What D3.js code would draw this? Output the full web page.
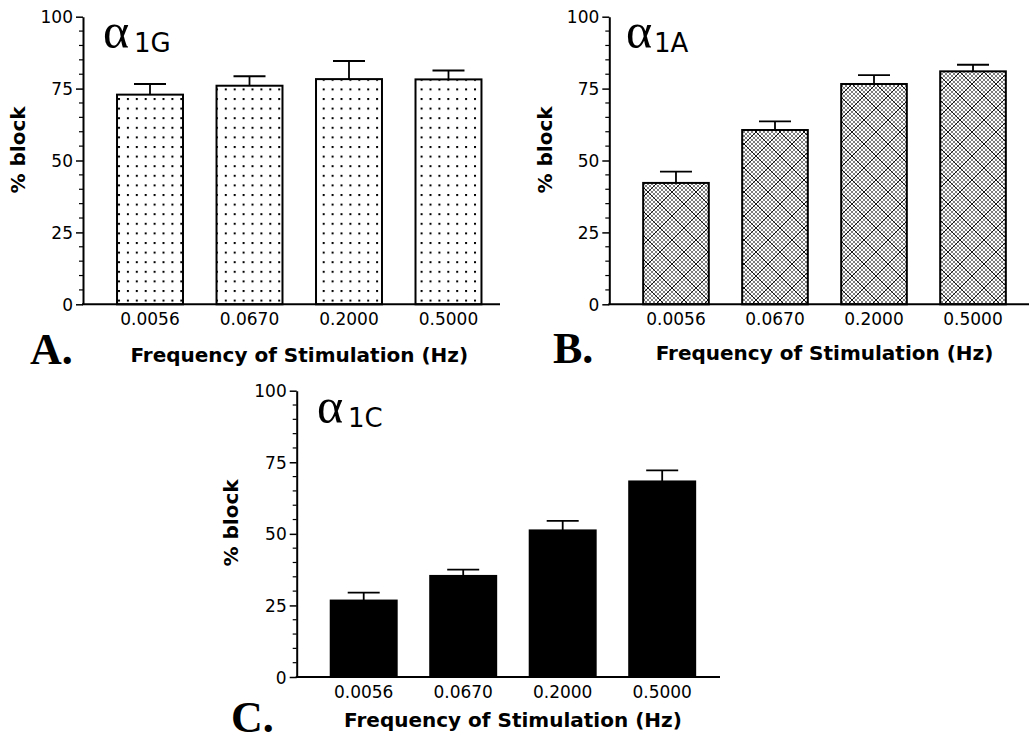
<!DOCTYPE html>
<html>
<head>
<meta charset="utf-8">
<script src="https://cdn.jsdelivr.net/npm/d3@7"></script>
<style>
  html, body { margin: 0; padding: 0; background: #fff; }
  svg { display: block; }
</style>
</head>
<body>
<svg id="chart" width="1029" height="742"></svg>
<script>
// ---- data ----
const categories = ["0.0056", "0.0670", "0.2000", "0.5000"];
const meanA = [72.9, 76.0, 78.3, 78.2];
const semA  = [3.7, 3.3, 6.3, 3.1];
const meanB = [42.2, 60.6, 76.6, 81.0];
const semB  = [3.9, 3.0, 3.1, 2.3];
const meanC = [26.7, 35.3, 51.2, 68.3];
const semC  = [2.8, 2.2, 3.3, 3.9];
const yTicks = [0, 25, 50, 75, 100];
const yMinorStep = 5;
const panelLetters = ["A.", "B.", "C."];
const subtypes = ["1G", "1A", "1C"];
const xTitle = "Frequency of Stimulation (Hz)";
const yTitle = "% block";

// ---- layout ----
const svg = d3.select("#chart");
const defs = svg.append("defs");

// dotted pattern
const dots = defs.append("pattern").attr("id", "dots")
  .attr("patternUnits", "userSpaceOnUse").attr("width", 8.9).attr("height", 9.6)
  .attr("x", 118).attr("y", 2);
dots.append("rect").attr("width", 8.9).attr("height", 9.6).attr("fill", "#fff");
dots.append("rect").attr("x", 0).attr("y", 0).attr("width", 2).attr("height", 2).attr("fill", "#000");

// cross-hatch pattern
const T = 24, p = 4;
const hatch = defs.append("pattern").attr("id", "hatch")
  .attr("patternUnits", "userSpaceOnUse").attr("width", T).attr("height", T);
hatch.append("rect").attr("width", T).attr("height", T).attr("fill", "#fff");
for (let c = -T; c <= T; c += p) {
  const dark = (c === 0);
  hatch.append("line").attr("x1", 0).attr("y1", c).attr("x2", T).attr("y2", T + c)
    .attr("stroke", dark ? "#111" : "#666").attr("stroke-width", dark ? 1 : 0.85);
}
for (let c = 0; c <= 2 * T; c += p) {
  const dark = (c === T);
  hatch.append("line").attr("x1", 0).attr("y1", c).attr("x2", T).attr("y2", c - T)
    .attr("stroke", dark ? "#111" : "#666").attr("stroke-width", dark ? 1 : 0.85);
}

const panels = [
  { mean: meanA, sem: semA, fill: "url(#dots)", x0: 83, axisEnd: 500, rangeEnd: 515.5, yTop: 16.7, yBot: 304.3,
    letter: [30, 364], yLab: [25, 150], xLabY: 361.5, alpha: [103, 48.3], sub: [134, 52.3] },
  { mean: meanB, sem: semB, fill: "url(#hatch)", x0: 609.3, axisEnd: 1029, rangeEnd: 1039.7, yTop: 16.7, yBot: 304.3,
    letter: [553, 363], yLab: [551.5, 150], xLabY: 360, alpha: [626, 48.3], sub: [654, 52.3] },
  { mean: meanC, sem: semC, fill: "#000", x0: 296.7, axisEnd: 720, rangeEnd: 729.2, yTop: 390.7, yBot: 677,
    letter: [231, 731.5], yLab: [238, 523], xLabY: 727, alpha: [317, 423], sub: [348, 427] }
];

panels.forEach((P, i) => {
  const g = svg.append("g");
  const x = d3.scaleBand().domain(categories).range([P.x0, P.rangeEnd])
    .paddingInner(0.337).paddingOuter(0.342);
  const y = d3.scaleLinear().domain([0, 100]).range([P.yBot, P.yTop]);

  // bars
  g.selectAll("rect.bar").data(categories).enter().append("rect")
    .attr("class", "bar")
    .attr("x", d => x(d))
    .attr("width", x.bandwidth())
    .attr("y", (d, j) => y(P.mean[j]))
    .attr("height", (d, j) => y(0) - y(P.mean[j]))
    .attr("fill", P.fill)
    .attr("stroke", "#000").attr("stroke-width", 2);

  // error bars (upper)
  const capW = 32;
  categories.forEach((d, j) => {
    const cx = x(d) + x.bandwidth() / 2;
    g.append("line").attr("x1", cx).attr("x2", cx)
      .attr("y1", y(P.mean[j])).attr("y2", y(P.mean[j] + P.sem[j]))
      .attr("stroke", "#000").attr("stroke-width", 1.8);
    g.append("line").attr("x1", cx - capW / 2).attr("x2", cx + capW / 2)
      .attr("y1", y(P.mean[j] + P.sem[j])).attr("y2", y(P.mean[j] + P.sem[j]))
      .attr("stroke", "#000").attr("stroke-width", 1.8);
  });

  // y axis
  const minor = d3.range(0, 101, yMinorStep).filter(v => !yTicks.includes(v));
  const yAxis = d3.axisLeft(y).tickValues(yTicks).tickSize(7).tickSizeOuter(0);
  const ya = g.append("g").attr("transform", `translate(${P.x0},0)`).call(yAxis);
  ya.select(".domain").attr("stroke-width", 2);
  ya.selectAll(".tick line").attr("stroke-width", 1.5);
  ya.selectAll(".tick text").attr("x", -10).attr("dy", "0.36em")
    .attr("font-family", "DejaVu Sans").attr("font-size", 17).attr("fill", "#000");
  g.selectAll("line.minor").data(minor).enter().append("line")
    .attr("class", "minor")
    .attr("x1", P.x0 - 4).attr("x2", P.x0)
    .attr("y1", d => y(d)).attr("y2", d => y(d))
    .attr("stroke", "#000").attr("stroke-width", 1.2);

  // x axis line and labels
  g.append("line").attr("x1", P.x0 - 1).attr("x2", P.axisEnd)
    .attr("y1", y(0)).attr("y2", y(0))
    .attr("stroke", "#000").attr("stroke-width", 2);
  g.selectAll("text.xt").data(categories).enter().append("text")
    .attr("class", "xt")
    .attr("x", d => x(d) + x.bandwidth() / 2)
    .attr("y", y(0) + 21)
    .attr("text-anchor", "middle")
    .attr("font-family", "DejaVu Sans").attr("font-size", 17).attr("fill", "#000")
    .text(d => d);

  // axis titles
  const barsMid = (x(categories[0]) + x(categories[3]) + x.bandwidth()) / 2;
  g.append("text").attr("x", barsMid).attr("y", P.xLabY)
    .attr("text-anchor", "middle")
    .attr("font-family", "DejaVu Sans").attr("font-weight", "bold").attr("font-size", 20)
    .attr("fill", "#000").text(xTitle);
  g.append("text")
    .attr("transform", `translate(${P.yLab[0]},${P.yLab[1]}) rotate(-90)`)
    .attr("text-anchor", "middle")
    .attr("font-family", "DejaVu Sans").attr("font-weight", "bold").attr("font-size", 20)
    .attr("fill", "#000").text(yTitle);

  // alpha label
  g.append("text").attr("x", P.alpha[0]).attr("y", P.alpha[1])
    .attr("font-family", "Liberation Serif").attr("font-size", 50).attr("fill", "#000").text("α");
  g.append("text").attr("x", P.sub[0]).attr("y", P.sub[1])
    .attr("font-family", "DejaVu Sans").attr("font-size", 26).attr("fill", "#000").text(subtypes[i]);

  // panel letter
  g.append("text").attr("x", P.letter[0]).attr("y", P.letter[1])
    .attr("font-family", "Liberation Serif").attr("font-weight", "bold").attr("font-size", 44)
    .attr("fill", "#000").text(panelLetters[i]);
});
</script>
</body>
</html>
